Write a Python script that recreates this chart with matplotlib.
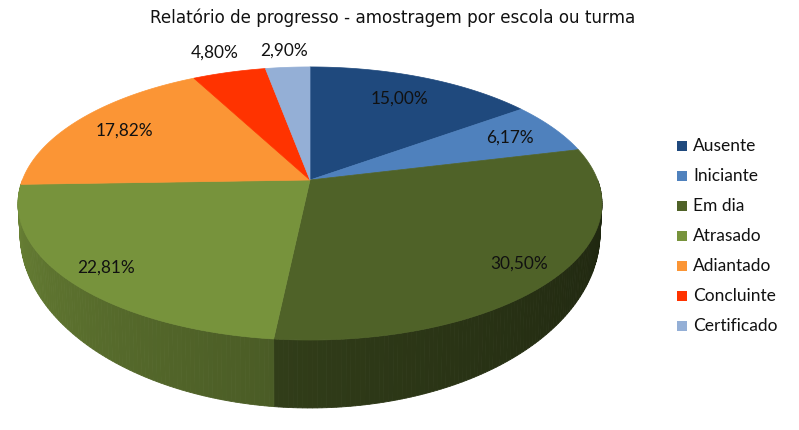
import numpy as np
import matplotlib
matplotlib.use("Agg")
import matplotlib.pyplot as plt
from matplotlib.patches import Polygon, Rectangle
from matplotlib.colors import to_rgb

# data
categories = ["Ausente", "Iniciante", "Em dia", "Atrasado", "Adiantado", "Concluinte", "Certificado"]
values = [15.00, 6.17, 30.50, 22.81, 17.82, 4.80, 2.90]
colors = ["#1F497D", "#4F81BD", "#4F6228", "#77933C", "#FB9535", "#FF3300", "#94AFD6"]
title = "Relatório de progresso - amostragem por escola ou turma"

# label distance from centre (fraction of radius); small slices go outside
label_r = [0.77, 0.81, 0.87, 0.87, 0.80, 1.22, 1.18]

# perspective projection of the pie (pixel space)
CX, CY = 310, 180
A, B, K = 287.6, 132.5, 0.172        # top face
CYB, A2, B2 = 202.9, 285.7, 169.8    # bottom face


def top_xy(theta, r=1.0):
    t = np.radians(theta)
    x, y = r * np.cos(t), r * np.sin(t)
    s = 1.0 / (1.0 + K * y)
    return CX + A * x * s, CY - B * y * s


def bottom_xy(theta, r=1.0):
    t = np.radians(theta)
    x, y = r * np.cos(t), r * np.sin(t)
    s = 1.0 / (1.0 + K * y)
    return CX + A2 * x * s, CYB - B2 * y * s


def shade(theta):
    # light from the left: bright at -180, dark at 0
    u = np.clip(-theta / 180.0, 0, 1)
    return 0.37 + 0.54 * u ** 1.2


fig = plt.figure(figsize=(7.99, 4.30), dpi=100)
ax = fig.add_axes([0, 0, 1, 1])
ax.set_xlim(0, 799)
ax.set_ylim(430, 0)
ax.axis("off")

total = sum(values)
spans = [360.0 * v / total for v in values]
starts = 90 - np.concatenate([[0], np.cumsum(spans)[:-1]])
ends = starts - np.array(spans)

# side wall (front half only)
for st, en, col in zip(starts, ends, colors):
    lo, hi = max(en, -180), min(st, 0)
    if hi <= lo:
        continue
    n = max(int((hi - lo) / 0.8), 1)
    edges = np.linspace(hi, lo, n + 1)
    base = np.array(to_rgb(col))
    for a, b in zip(edges[:-1], edges[1:]):
        pts = [top_xy(a), top_xy(b), bottom_xy(b), bottom_xy(a)]
        c = np.clip(base * shade((a + b) / 2), 0, 1)
        ax.add_patch(Polygon(pts, closed=True, facecolor=c, edgecolor=c, linewidth=0.6))

# top face
for st, en, col in zip(starts, ends, colors):
    th = np.linspace(st, en, max(int((st - en) * 2), 4))
    pts = [(CX, CY)] + [top_xy(t) for t in th]
    ax.add_patch(Polygon(pts, closed=True, facecolor=col, edgecolor=col, linewidth=0.5))

# value labels
for st, en, v, r in zip(starts, ends, values, label_r):
    x, y = top_xy((st + en) / 2, r)
    ax.text(x, y, f"{v:.2f}%".replace(".", ","), ha="center", va="center",
            fontsize=12.4, family="Lato", color="#111111")

# title
ax.text(393, 18, title, ha="center", va="center", fontsize=12.1,
        family="DejaVu Sans", color="#111111")

# legend
for i, (cat, col) in enumerate(zip(categories, colors)):
    yc = 146 + 30 * i
    ax.add_patch(Rectangle((677, yc - 5), 10, 10, facecolor=col, edgecolor="none"))
    ax.text(693, yc, cat, ha="left", va="center", fontsize=12.5,
            family="Lato", color="#111111")

fig.savefig("out.png", dpi=100)
